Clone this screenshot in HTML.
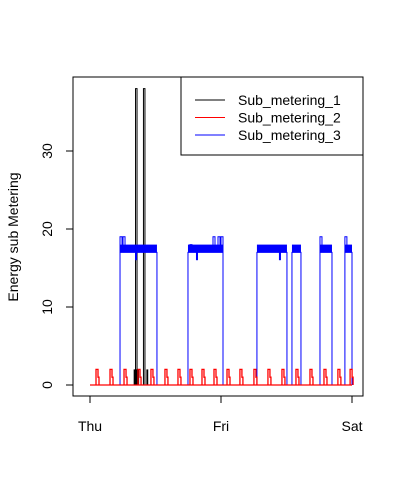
<!DOCTYPE html>
<html><head><meta charset="utf-8"><style>
body{margin:0;background:#fff}
svg{display:block;font-family:"Liberation Sans",Arial,sans-serif}
</style></head><body>
<svg id="c" width="404" height="495" viewBox="0 0 404 495">
</svg>
<script>
// data (minutes from Thu 00:00; 2880 = Sat 00:00)
const xTickLabels = ["Thu","Fri","Sat"];
const xTickValues = [0,1440,2880];
const yTickValues = [0,10,20,30];
const seriesNames = ["Sub_metering_1","Sub_metering_2","Sub_metering_3"];
const sub1SpikeTimes = [506,593];
const sub1SpikeValues = [38,38];
const sub1LowStart = [480,620];
const sub1LowEnd = [540,600];
const sub2SpikeTimes = [77,231,385,539,681,835,978,1110,1242,1374,1517,1659,1813,1967,2121,2275,2429,2583,2736,2870];
const sub2SpikeValues = [2,2,2,2,2,2,2,2,2,2,2,2,2,2,2,2,2,2,2,2];
const sub3BlockStart = [330,1077,1835,2220,2528,2802];
const sub3BlockEnd = [736,1462,2165,2319,2660,2880];
const sub3BandLow = [17,17,17,17,17,17];
const sub3BandHigh = [18,18,18,18,18,18];
const sub3SpikeTimes = [330,363,1099,1352,1407,1440,2528,2802];
const sub3SpikeValues = [19,19,18,19,19,19,19,19];
const sub3DipTimes = [495,1165,2077];
const sub3DipValues = [16,16,16];

const svg=document.getElementById('c');
const NS='http://www.w3.org/2000/svg';
const X=t=>90+t*(262/2880);
const Y=v=>385-v*7.8;
function mk(tag,attrs,parent){const e=document.createElementNS(NS,tag);for(const k in attrs)e.setAttribute(k,attrs[k]);(parent||svg).appendChild(e);return e;}

const box=mk('rect',{x:73,y:77,width:290,height:319,fill:'none',stroke:'#000','stroke-width':1});



// sub_metering_1 (black)
const g1=mk('g',{stroke:'#000','stroke-width':1,fill:'none'});


mk('line',{x1:X(0),y1:Y(0),x2:X(2880),y2:Y(0)},g1);
sub1LowStart.forEach((s,i)=>{
  const r=mk('rect',{x:X(s),y:Y(2),width:Math.abs(X(sub1LowEnd[i])-X(s)),height:Y(0)-Y(2),fill:'#000',stroke:'none'},g1);
  
  
});
sub1SpikeTimes.forEach((t,i)=>{
  const p=mk('polyline',{points:`${X(t)-0.5},${Y(0)} ${X(t)-0.5},${Y(sub1SpikeValues[i])} ${X(t)+1},${Y(sub1SpikeValues[i])} ${X(t)+1},${Y(0)}`,'stroke-width':1},g1);
  
  
});

// sub_metering_3 (blue)
const g3=mk('g',{stroke:'#0000ff','stroke-width':1,fill:'none'});


mk('line',{x1:X(0),y1:Y(0),x2:X(2880),y2:Y(0)},g3);
sub3BlockStart.forEach((s,i)=>{
  const e=sub3BlockEnd[i];
  const p=mk('polyline',{points:`${X(s)},${Y(0)} ${X(s)},${Y(sub3BandLow[i])} ${X(e)},${Y(sub3BandLow[i])} ${X(e)},${Y(0)}`},g3);
  
  
  const r=mk('rect',{x:X(s),y:Y(sub3BandHigh[i]),width:X(e)-X(s),height:Y(sub3BandLow[i])-Y(sub3BandHigh[i]),fill:'#0000ff',stroke:'none'},g3);
  
  
});
sub3SpikeTimes.forEach((t,i)=>{
  const p=mk('polyline',{points:`${X(t)},${Y(17)} ${X(t)},${Y(sub3SpikeValues[i])} ${X(t)+2},${Y(sub3SpikeValues[i])} ${X(t)+2},${Y(17)}`},g3);
  
  
});
sub3DipTimes.forEach((t,i)=>{
  const p=mk('rect',{x:X(t),y:Y(17),width:2,height:Y(sub3DipValues[i])-Y(17),fill:'#0000ff',stroke:'none'},g3);
  
  
});

// sub_metering_2 (red)
const g2=mk('g',{stroke:'#ff0000','stroke-width':1.3,fill:'none'});


mk('line',{x1:X(0),y1:Y(0),x2:X(2880),y2:Y(0)},g2);
sub2SpikeTimes.forEach((t,i)=>{
  const v=sub2SpikeValues[i];
  const p=mk('polyline',{points:`${X(t)-1},${Y(0)} ${X(t)-1},${Y(v)} ${X(t)+1},${Y(v)} ${X(t)+1},${Y(1)} ${X(t)+2},${Y(1)} ${X(t)+2},${Y(0)}`},g2);
  
  
});

// y axis
const ya=mk('g',{stroke:'#000','stroke-width':1});


mk('line',{x1:73,y1:Y(yTickValues[0]),x2:73,y2:Y(yTickValues[yTickValues.length-1])},ya);
yTickValues.forEach(v=>{
  mk('line',{x1:66,y1:Y(v),x2:73,y2:Y(v)},ya);
  const t=mk('text',{x:0,y:0,transform:`translate(52,${Y(v)}) rotate(-90)`,'text-anchor':'middle','font-size':14,fill:'#000',stroke:'none'},ya);
  t.textContent=v;
  
  
});
const yt=mk('text',{transform:'translate(18,237) rotate(-90)','text-anchor':'middle','font-size':14,fill:'#000'});
yt.textContent='Energy sub Metering';



// x axis
const xa=mk('g',{stroke:'#000','stroke-width':1});


mk('line',{x1:X(xTickValues[0]),y1:396,x2:X(xTickValues[xTickValues.length-1]),y2:396},xa);
xTickValues.forEach((v,i)=>{
  mk('line',{x1:X(v),y1:396,x2:X(v),y2:403},xa);
  const t=mk('text',{x:X(v),y:431,'text-anchor':'middle','font-size':14,fill:'#000',stroke:'none'},xa);
  t.textContent=xTickLabels[i];
  
  
});

// legend
const lg=mk('g',{});


mk('rect',{x:181,y:77,width:182,height:78,fill:'#fff',stroke:'#000'},lg);
const cols=['#000000','#ff0000','#0000ff'];
seriesNames.forEach((n,i)=>{
  const y=100+i*17.5;
  const e=mk('g',{},lg);
  
  
  const l=mk('line',{x1:195,y1:y,x2:225,y2:y},e);
  l.style.stroke=cols[i];
  l.style.strokeWidth='1';
  const t=mk('text',{x:238,y:y+5,'font-size':14,fill:'#000'},e);
  t.textContent=n;
});
</script>
</body></html>
